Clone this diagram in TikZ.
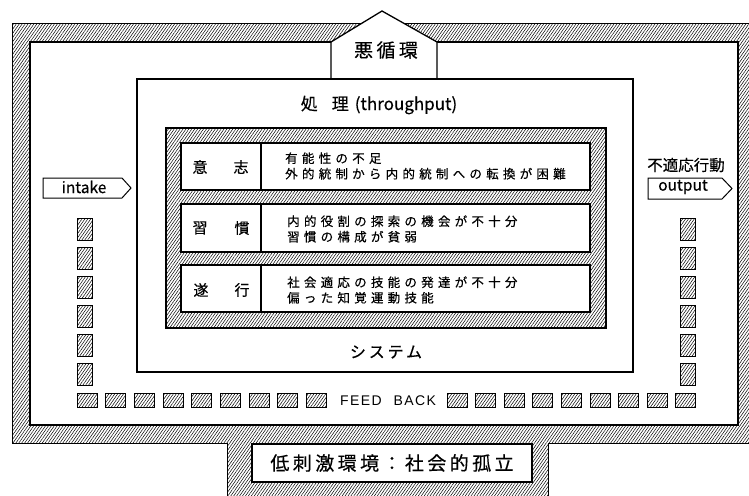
\documentclass[tikz,border=0pt]{standalone}
\usepackage{fontspec}
\setmainfont[FakeBold=0.4]{Noto Sans CJK JP}
\newfontfamily\jrow[LetterSpace=34,FakeBold=0.4]{Noto Sans CJK JP}
\newfontfamily\jwide[LetterSpace=18,FakeBold=0.4]{Noto Sans CJK JP}
\newfontfamily\latin[LetterSpace=10]{Liberation Sans}
\usetikzlibrary{patterns.meta}
\tikzset{
  hatch/.style={pattern={Lines[angle=55,distance=2.4pt,line width=0.5pt]}},
  bord/.style={line width=1.3pt},
  thin/.style={line width=1pt},
  fbv/.style={draw,line width=1pt,hatch},
  rowtxt/.style={anchor=west,align=left,inner sep=0pt,font=\jrow\fontsize{12.5}{15.5}\selectfont},
  celltxt/.style={inner sep=0pt,font=\fontsize{15}{15}\selectfont},
}
\begin{document}
\begin{tikzpicture}[x=1pt,y=-1pt]
\useasboundingbox (0,0) rectangle (749,495);
% outer environment band
\path[hatch] (12,24) -- (760,24) -- (760,443) -- (548,443) -- (548,500) -- (227,500) -- (227,443) -- (12,443) -- cycle;
\draw[thin] (760,24) -- (12,24) -- (12,443) -- (227,443) -- (227,500);
\draw[thin] (548,500) -- (548,443) -- (760,443);
\fill[white] (30,42) rectangle (738,425);
\draw[bord] (30,42) rectangle (738,425);
% vicious circle pentagon
\filldraw[fill=white,bord] (331,79) -- (331,42) -- (382,11) -- (437,42) -- (437,79);
\node[inner sep=0pt,font=\jwide\fontsize{19}{19}\selectfont] (akujunkan) at (386,50) {悪循環};
% environment box
\draw[bord,fill=white] (252,444) rectangle (532,482);
\node[inner sep=0pt,font=\jwide\fontsize{19}{19}\selectfont] (env) at (392,463) {低刺激環境：社会的孤立};
% system box
\draw[bord,fill=white] (137,79) rectangle (633,372);
\node[inner sep=0pt,font=\fontsize{17}{17}\selectfont] (shori) at (379,105) {処\hspace{14pt}理\hspace{6pt}(throughput)};
\node[inner sep=0pt,font=\jwide\fontsize{16}{16}\selectfont] (system) at (386,352) {システム};
% hatched inner frame
\filldraw[hatch,bord] (166,128) rectangle (606,328);
\foreach \t/\b in {143/190,204/252,265/312}{
  \draw[bord,fill=white] (181,\t) rectangle (590,\b);
  \draw[bord] (261,\t) -- (261,\b);
}
\node[celltxt] (i1) at (200,167) {意};
\node[celltxt] (i2) at (241,167) {志};
\node[celltxt] (s1) at (200,228) {習};
\node[celltxt] (s2) at (242,228) {慣};
\node[celltxt] (t1) at (201,290) {遂};
\node[celltxt] (t2) at (242,290) {行};
\node[rowtxt] (r1) at (285,166) {有能性の不足\\外的統制から内的統制への転換が困難};
\node[rowtxt] (r2) at (287,229) {内的役割の探索の機会が不十分\\習慣の構成が貧弱};
\node[rowtxt] (r3) at (287,290) {社会適応の技能の発達が不十分\\偏った知覚運動技能};
% intake / output arrows
\filldraw[fill=white,thin] (43,178) -- (122,178) -- (131,188) -- (122,198) -- (43,198) -- cycle;
\node[inner sep=0pt,font=\fontsize{15.5}{15.5}\selectfont] (intake) at (84,187) {intake};
\filldraw[fill=white,thin] (648,178) -- (722,178) -- (732,188.5) -- (722,199) -- (648,199) -- cycle;
\node[inner sep=0pt,font=\fontsize{15.5}{15.5}\selectfont] (output) at (683,187) {output};
\node[inner sep=0pt,font=\fontsize{15.5}{15.5}\selectfont] (futeki) at (686,165) {不適応行動};
% feedback squares
\foreach \y in {218,247,276,305,334,363}{
  \draw[fbv] (77,\y) rectangle +(15,22);
  \draw[fbv] (680,\y) rectangle +(15,22);
}
\foreach \i in {0,...,8}{
  \draw[fbv] (77+28.7*\i,393) rectangle +(20,14);
  \draw[fbv] (447+28.6*\i,393) rectangle +(20,14);
}
\node[inner sep=0pt,font=\latin\fontsize{14}{14}\selectfont] (fb) at (388,400.5) {FEED\hspace{12pt}BACK};
\end{tikzpicture}
\end{document}
